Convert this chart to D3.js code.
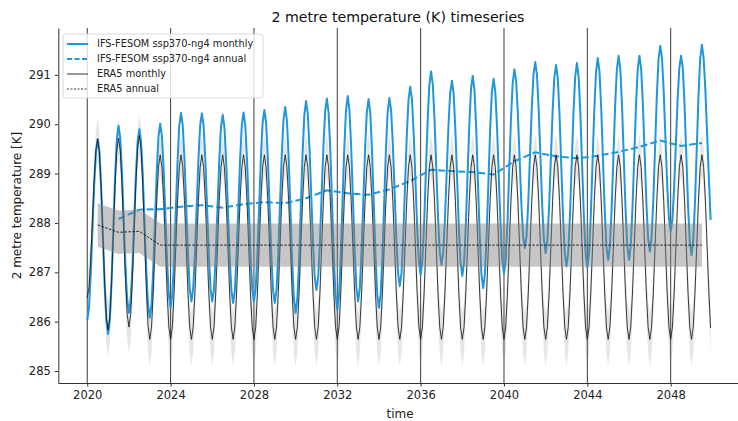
<!DOCTYPE html>
<html><head><meta charset="utf-8">
<script src="https://cdn.jsdelivr.net/npm/d3@7/dist/d3.min.js"></script>
<style>body{margin:0;background:#fff}svg{display:block;font-family:"DejaVu Sans",sans-serif}</style>
</head><body><svg id="c" width="738" height="421"></svg>
<script>
// ---------- data ----------
const years = [2020,2021,2022,2023,2024,2025,2026,2027,2028,2029,2030,2031,2032,2033,2034,2035,2036,2037,2038,2039,2040,2041,2042,2043,2044,2045,2046,2047,2048,2049];

// IFS-FESOM ssp370-ng4 monthly (Jan..Dec per year)
const ifsMonthly = [
[286.03,286.28,286.95,287.87,288.78,289.45,289.70,289.44,288.71,287.73,286.74,286.02],
[285.75,286.03,286.81,287.86,288.92,289.69,289.97,289.72,289.02,288.08,287.13,286.43],
[286.18,286.43,287.11,288.04,288.97,289.65,289.90,289.64,288.95,287.99,287.04,286.34],
[286.08,286.34,287.06,288.05,289.03,289.75,290.01,289.76,289.08,288.15,287.21,286.53],
[286.28,286.55,287.27,288.26,289.24,289.97,290.23,289.97,289.28,288.32,287.37,286.67],
[286.41,286.67,287.36,288.32,289.27,289.97,290.22,289.97,289.27,288.32,287.36,286.67],
[286.41,286.66,287.36,288.30,289.25,289.94,290.19,289.94,289.24,288.29,287.33,286.64],
[286.38,286.64,287.35,288.31,289.28,289.98,290.24,289.98,289.28,288.33,287.37,286.67],
[286.41,286.67,287.38,288.35,289.32,290.03,290.29,290.03,289.31,288.34,287.36,286.64],
[286.38,286.65,287.37,288.37,289.36,290.08,290.35,290.07,289.31,288.27,287.22,286.46],
[286.18,286.47,287.25,288.33,289.40,290.18,290.47,290.21,289.51,288.56,287.60,286.90],
[286.64,286.90,287.61,288.58,289.55,290.26,290.52,290.23,289.45,288.38,287.31,286.53],
[286.24,286.53,287.32,288.41,289.49,290.28,290.57,290.29,289.53,288.49,287.45,286.69],
[286.41,286.69,287.44,288.46,289.49,290.24,290.51,290.23,289.45,288.40,287.34,286.56],
[286.28,286.57,287.34,288.41,289.47,290.25,290.53,290.28,289.58,288.63,287.67,286.98],
[286.72,286.99,287.73,288.74,289.75,290.49,290.76,290.51,289.81,288.86,287.90,287.21],
[286.95,287.23,287.98,289.01,290.04,290.79,291.07,290.81,290.09,289.11,288.13,287.41],
[287.15,287.40,288.08,289.02,289.95,290.63,290.88,290.62,289.89,288.91,287.92,287.20],
[286.93,287.20,287.94,288.96,289.97,290.71,290.98,290.69,289.91,288.83,287.76,286.97],
[286.68,286.96,287.74,288.80,289.86,290.64,290.92,290.66,289.94,288.95,287.97,287.24],
[286.98,287.26,288.01,289.05,290.08,290.83,291.11,290.87,290.21,289.30,288.40,287.73],
[287.49,287.74,288.43,289.38,290.32,291.01,291.26,291.00,290.29,289.33,288.36,287.65],
[287.39,287.65,288.34,289.30,290.25,290.95,291.20,290.93,290.18,289.16,288.14,287.39],
[287.12,287.40,288.15,289.18,290.21,290.96,291.24,290.96,290.21,289.17,288.14,287.38],
[287.10,287.38,288.16,289.22,290.28,291.06,291.34,291.07,290.32,289.30,288.27,287.52],
[287.25,287.53,288.29,289.32,290.36,291.11,291.39,291.11,290.36,289.32,288.29,287.53],
[287.25,287.53,288.29,289.32,290.36,291.11,291.39,291.12,290.40,289.41,288.41,287.69],
[287.42,287.70,288.46,289.51,290.55,291.31,291.59,291.34,290.65,289.71,288.77,288.08],
[287.83,288.07,288.72,289.61,290.50,291.15,291.39,291.12,290.38,289.37,288.36,287.62],
[287.35,287.64,288.42,289.48,290.55,291.33,291.61,291.33,290.68,289.80,288.92,288.06]
];

// ERA5 monthly (Jan..Dec per year)
const era5Monthly = [
[286.48,286.70,287.29,288.09,288.90,289.48,289.70,289.44,288.73,287.77,286.80,286.09],
[285.83,286.09,286.80,287.78,288.75,289.46,289.72,289.46,288.76,287.81,286.85,286.15],
[285.89,286.15,286.86,287.83,288.80,289.51,289.77,289.49,288.74,287.71,286.67,285.92],
[285.64,285.89,286.58,287.51,288.45,289.13,289.38,289.13,288.45,287.51,286.58,285.89],
[285.64,285.89,286.58,287.51,288.45,289.13,289.38,289.13,288.45,287.51,286.58,285.89],
[285.64,285.89,286.58,287.51,288.45,289.13,289.38,289.13,288.45,287.51,286.58,285.89],
[285.64,285.89,286.58,287.51,288.45,289.13,289.38,289.13,288.45,287.51,286.58,285.89],
[285.64,285.89,286.58,287.51,288.45,289.13,289.38,289.13,288.45,287.51,286.58,285.89],
[285.64,285.89,286.58,287.51,288.45,289.13,289.38,289.13,288.45,287.51,286.58,285.89],
[285.64,285.89,286.58,287.51,288.45,289.13,289.38,289.13,288.45,287.51,286.58,285.89],
[285.64,285.89,286.58,287.51,288.45,289.13,289.38,289.13,288.45,287.51,286.58,285.89],
[285.64,285.89,286.58,287.51,288.45,289.13,289.38,289.13,288.45,287.51,286.58,285.89],
[285.64,285.89,286.58,287.51,288.45,289.13,289.38,289.13,288.45,287.51,286.58,285.89],
[285.64,285.89,286.58,287.51,288.45,289.13,289.38,289.13,288.45,287.51,286.58,285.89],
[285.64,285.89,286.58,287.51,288.45,289.13,289.38,289.13,288.45,287.51,286.58,285.89],
[285.64,285.89,286.58,287.51,288.45,289.13,289.38,289.13,288.45,287.51,286.58,285.89],
[285.64,285.89,286.58,287.51,288.45,289.13,289.38,289.13,288.45,287.51,286.58,285.89],
[285.64,285.89,286.58,287.51,288.45,289.13,289.38,289.13,288.45,287.51,286.58,285.89],
[285.64,285.89,286.58,287.51,288.45,289.13,289.38,289.13,288.45,287.51,286.58,285.89],
[285.64,285.89,286.58,287.51,288.45,289.13,289.38,289.13,288.45,287.51,286.58,285.89],
[285.64,285.89,286.58,287.51,288.45,289.13,289.38,289.13,288.45,287.51,286.58,285.89],
[285.64,285.89,286.58,287.51,288.45,289.13,289.38,289.13,288.45,287.51,286.58,285.89],
[285.64,285.89,286.58,287.51,288.45,289.13,289.38,289.13,288.45,287.51,286.58,285.89],
[285.64,285.89,286.58,287.51,288.45,289.13,289.38,289.13,288.45,287.51,286.58,285.89],
[285.64,285.89,286.58,287.51,288.45,289.13,289.38,289.13,288.45,287.51,286.58,285.89],
[285.64,285.89,286.58,287.51,288.45,289.13,289.38,289.13,288.45,287.51,286.58,285.89],
[285.64,285.89,286.58,287.51,288.45,289.13,289.38,289.13,288.45,287.51,286.58,285.89],
[285.64,285.89,286.58,287.51,288.45,289.13,289.38,289.13,288.45,287.51,286.58,285.89],
[285.64,285.89,286.58,287.51,288.45,289.13,289.38,289.13,288.45,287.51,286.58,285.89],
[285.64,285.89,286.58,287.51,288.45,289.13,289.38,289.13,288.45,287.51,286.58,285.87]
];
// ERA5 monthly spread by calendar month (K)
const era5MonthlyStd = [0.55,0.50,0.45,0.42,0.40,0.40,0.42,0.40,0.40,0.42,0.48,0.52];

// annual means (plotted mid-year)
const ifsAnnualYears = [2021,2022,2023,2024,2025,2026,2027,2028,2029,2030,2031,2032,2033,2034,2035,2036,2037,2038,2039,2040,2041,2042,2043,2044,2045,2046,2047,2048,2049];
const ifsAnnual = [288.08,288.27,288.28,288.33,288.36,288.31,288.38,288.42,288.40,288.50,288.66,288.60,288.57,288.68,288.85,289.08,289.05,289.03,288.98,289.25,289.43,289.35,289.31,289.36,289.44,289.54,289.67,289.56,289.62];
const era5Annual = [287.96,287.81,287.83,287.55,287.55,287.55,287.55,287.55,287.55,287.55,287.55,287.55,287.55,287.55,287.55,287.55,287.55,287.55,287.55,287.55,287.55,287.55,287.55,287.55,287.55,287.55,287.55,287.55,287.55,287.55];
const era5AnnualStd = [0.44,0.44,0.44,0.44,0.44,0.44,0.44,0.44,0.44,0.44,0.44,0.44,0.44,0.44,0.44,0.44,0.44,0.44,0.44,0.44,0.44,0.44,0.44,0.44,0.44,0.44,0.44,0.44,0.44,0.44];

const xTicks = [2020,2024,2028,2032,2036,2040,2044,2048];
const yTicks = [285,286,287,288,289,290,291];
const legendLabels = ["IFS-FESOM ssp370-ng4 monthly","IFS-FESOM ssp370-ng4 annual","ERA5 monthly","ERA5 annual"];

// ---------- drawing ----------
const BLUE = "#1f97dd";
const svg = d3.select("#c");
const L = 58.3, R = 743.6, T = 28, B = 383;
const x = d3.scaleLinear().domain([2018.61, 2051.5]).range([L, R]);
const y = d3.scaleLinear().domain([284.757, 291.95]).range([B, T]);

const ifsPts = years.flatMap((yr,i) => ifsMonthly[i].map((v,m) => ({t: yr + m/12, v})));
const eraPts = years.flatMap((yr,i) => era5Monthly[i].map((v,m) => ({t: yr + m/12, v, s: era5MonthlyStd[m]})));
const ifsAnn = ifsAnnualYears.map((yr,i) => ({t: yr + 0.5, v: ifsAnnual[i]}));
const eraAnn = years.map((yr,i) => ({t: yr + 0.5, v: era5Annual[i], s: era5AnnualStd[i]}));

const line = d3.line().x(d => x(d.t)).y(d => y(d.v));
const band = d3.area().x(d => x(d.t)).y0(d => y(d.v - d.s)).y1(d => y(d.v + d.s));

// vertical grid lines at ticks
svg.append("g").selectAll("line").data(xTicks).join("line")
  .attr("x1", d => x(d)).attr("x2", d => x(d)).attr("y1", T).attr("y2", B)
  .attr("stroke", "#3c3c3c").attr("stroke-width", 1);

// ERA5 monthly spread
svg.append("path").datum(eraPts).attr("d", band).attr("fill", "#808080").attr("fill-opacity", 0.2);

// IFS monthly
svg.append("path").datum(ifsPts).attr("d", line).attr("fill", "none")
  .attr("stroke", BLUE).attr("stroke-width", 2).attr("stroke-linejoin", "round");
// IFS annual
svg.append("path").datum(ifsAnn).attr("d", line).attr("fill", "none")
  .attr("stroke", BLUE).attr("stroke-width", 2).attr("stroke-dasharray", "7,3");
// ERA5 monthly
svg.append("path").datum(eraPts).attr("d", line).attr("fill", "none")
  .attr("stroke", "#1a1a1a").attr("stroke-width", 1).attr("stroke-opacity", 0.85);
// ERA5 annual spread
svg.append("path").datum(eraAnn).attr("d", band).attr("fill", "#808080").attr("fill-opacity", 0.45);
// ERA5 annual
svg.append("path").datum(eraAnn).attr("d", line).attr("fill", "none")
  .attr("stroke", "#111").attr("stroke-width", 0.9).attr("stroke-dasharray", "2.5,1.5");

// axes
const gx = svg.append("g").attr("transform", `translate(0,${B})`)
  .call(d3.axisBottom(x).tickValues(xTicks).tickFormat(d3.format("d")).tickSize(3.5).tickSizeOuter(0).tickPadding(4));
const gy = svg.append("g").attr("transform", `translate(${L},0)`)
  .call(d3.axisLeft(y).tickValues(yTicks).tickSize(3.5).tickSizeOuter(0).tickPadding(4));
[gx, gy].forEach(g => {
  g.selectAll("text").attr("font-size", 11.5).attr("fill", "#222").attr("font-family", "DejaVu Sans");
  g.selectAll("line").attr("stroke", "#333");
  g.select(".domain").attr("stroke", "#333");
});

// titles
svg.append("text").attr("x", 398).attr("y", 22).attr("text-anchor", "middle")
  .attr("font-size", 14.2).attr("fill", "#111").text("2 metre temperature (K) timeseries");
svg.append("text").attr("x", 400).attr("y", 418).attr("text-anchor", "middle")
  .attr("font-size", 12).attr("fill", "#222").text("time");
svg.append("text").attr("transform", `translate(21,${(T+B)/2}) rotate(-90)`).attr("text-anchor", "middle")
  .attr("font-size", 12).attr("fill", "#222").text("2 metre temperature [K]");

// legend
const lg = svg.append("g");
lg.append("rect").attr("x", 63).attr("y", 34).attr("width", 200).attr("height", 64).attr("rx", 3)
  .attr("fill", "#fff").attr("fill-opacity", 0.8).attr("stroke", "#cfcfcf").attr("stroke-width", 0.8);
const styles = [
  {stroke: BLUE, w: 2, dash: null},
  {stroke: BLUE, w: 2, dash: "5,2.5"},
  {stroke: "#333", w: 1, dash: null},
  {stroke: "#222", w: 0.9, dash: "2,1.5"}
];
const rowY = [44, 59, 74, 89];
legendLabels.forEach((lab, i) => {
  lg.append("line").attr("x1", 67).attr("x2", 88).attr("y1", rowY[i]).attr("y2", rowY[i])
    .attr("stroke", styles[i].stroke).attr("stroke-width", styles[i].w)
    .attr("stroke-dasharray", styles[i].dash);
  lg.append("text").attr("x", 97).attr("y", rowY[i]).attr("dy", "0.35em")
    .attr("font-size", 9.8).attr("fill", "#222").text(lab);
});
</script></body></html>
